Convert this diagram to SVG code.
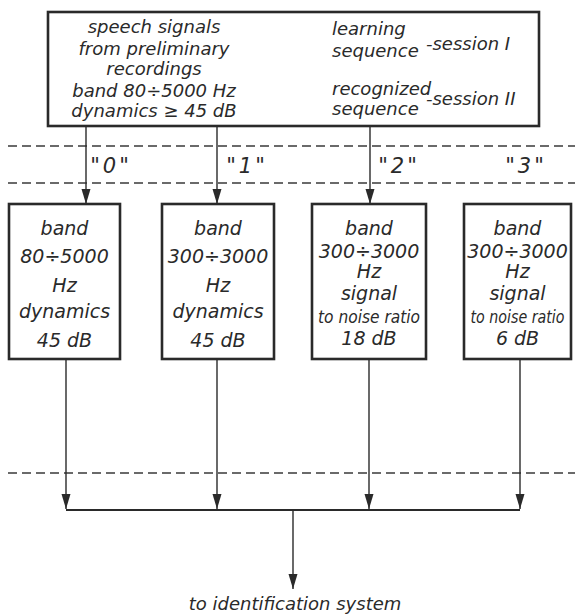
<svg xmlns="http://www.w3.org/2000/svg" width="575" height="616" viewBox="0 0 575 616">
<style>
.bg{fill:#ffffff}
.box{fill:none;stroke:#2a2a2a;stroke-width:2.6}
.t{font-family:"DejaVu Sans","Liberation Sans",sans-serif;font-style:italic;fill:#2a2a2a}
.t18{font-size:18px}
.t19{font-size:19px}
.q{font-size:21px;letter-spacing:3px}
.mid{text-anchor:middle}
.ln{fill:none;stroke:#2a2a2a;stroke-width:1.4}
.bus{fill:none;stroke:#2a2a2a;stroke-width:2}
.dash{fill:none;stroke:#3a3a3a;stroke-width:1.5;stroke-dasharray:9 5}
</style>
<defs>
<marker id="arr" markerUnits="userSpaceOnUse" markerWidth="16" markerHeight="10" viewBox="0 0 16 10" refX="15" refY="5" orient="auto">
<path d="M0,0.5 L15,5 L0,9.5 Z" fill="#2a2a2a"/>
</marker>
</defs>
<rect class="bg" x="0" y="0" width="575" height="616"/>
<g id="separators">
<line class="dash" x1="8" y1="146" x2="575" y2="146"/>
<line class="dash" x1="8" y1="183" x2="575" y2="183"/>
<line class="dash" x1="8" y1="473" x2="575" y2="473"/>
</g>
<g id="connectors">
<line class="ln" x1="86" y1="126" x2="86" y2="204" marker-end="url(#arr)"/>
<line class="ln" x1="217" y1="126" x2="217" y2="204" marker-end="url(#arr)"/>
<line class="ln" x1="370" y1="126" x2="370" y2="204" marker-end="url(#arr)"/>
<line class="ln" x1="66" y1="359" x2="66" y2="509" marker-end="url(#arr)"/>
<line class="ln" x1="217" y1="359" x2="217" y2="509" marker-end="url(#arr)"/>
<line class="ln" x1="369" y1="359" x2="369" y2="509" marker-end="url(#arr)"/>
<line class="ln" x1="520" y1="359" x2="520" y2="509" marker-end="url(#arr)"/>
<line class="bus" x1="66" y1="510" x2="520" y2="510"/>
<line class="ln" x1="293" y1="510" x2="293" y2="589" marker-end="url(#arr)"/>
</g>
<g id="labels">
<text class="t q mid" x="111" y="173">"0"</text>
<text class="t q mid" x="247" y="173">"1"</text>
<text class="t q mid" x="399" y="173">"2"</text>
<text class="t q mid" x="526" y="173">"3"</text>
<text class="t t18 mid" x="295" y="610">to identification system</text>
</g>
<g id="source">
<rect class="box" x="48" y="12" width="491" height="114"/>
<text class="t t18 mid" x="154" y="33">speech signals</text>
<text class="t t18 mid" x="154" y="55">from preliminary</text>
<text class="t t18 mid" x="154" y="75">recordings</text>
<text class="t t18 mid" x="154" y="97">band 80÷5000 Hz</text>
<text class="t t18 mid" x="154" y="117">dynamics ≥ 45 dB</text>
<text class="t t18" x="332" y="35">learning</text>
<text class="t t18" x="332" y="57">sequence</text>
<text class="t t18" x="426" y="50">-session I</text>
<text class="t t18" x="332" y="95">recognized</text>
<text class="t t18" x="332" y="115">sequence</text>
<text class="t t18" x="426" y="105">-session II</text>
</g>
<g id="channel0">
<rect class="box" x="9" y="204" width="111" height="155"/>
<text class="t t19 mid" x="64.5" y="235">band</text>
<text class="t t19 mid" x="64.5" y="263">80÷5000</text>
<text class="t t19 mid" x="64.5" y="292">Hz</text>
<text class="t t19 mid" x="64.5" y="318">dynamics</text>
<text class="t t19 mid" x="64.5" y="347">45 dB</text>
</g>
<g id="channel1">
<rect class="box" x="162" y="204" width="112" height="155"/>
<text class="t t19 mid" x="218" y="235">band</text>
<text class="t t19 mid" x="218" y="263">300÷3000</text>
<text class="t t19 mid" x="218" y="292">Hz</text>
<text class="t t19 mid" x="218" y="318">dynamics</text>
<text class="t t19 mid" x="218" y="347">45 dB</text>
</g>
<g id="channel2">
<rect class="box" x="312" y="204" width="114" height="155"/>
<text class="t t19 mid" x="369" y="235">band</text>
<text class="t t19 mid" x="369" y="258">300÷3000</text>
<text class="t t19 mid" x="369" y="278">Hz</text>
<text class="t t19 mid" x="369" y="300">signal</text>
<text class="t t18 mid" x="369" y="323" textLength="102" lengthAdjust="spacingAndGlyphs">to noise ratio</text>
<text class="t t19 mid" x="369" y="345">18 dB</text>
</g>
<g id="channel3">
<rect class="box" x="464" y="204" width="107" height="155"/>
<text class="t t19 mid" x="517.5" y="235">band</text>
<text class="t t19 mid" x="517.5" y="258">300÷3000</text>
<text class="t t19 mid" x="517.5" y="278">Hz</text>
<text class="t t19 mid" x="517.5" y="300">signal</text>
<text class="t t18 mid" x="517.5" y="323" textLength="94" lengthAdjust="spacingAndGlyphs">to noise ratio</text>
<text class="t t19 mid" x="517.5" y="345">6 dB</text>
</g>
</svg>
